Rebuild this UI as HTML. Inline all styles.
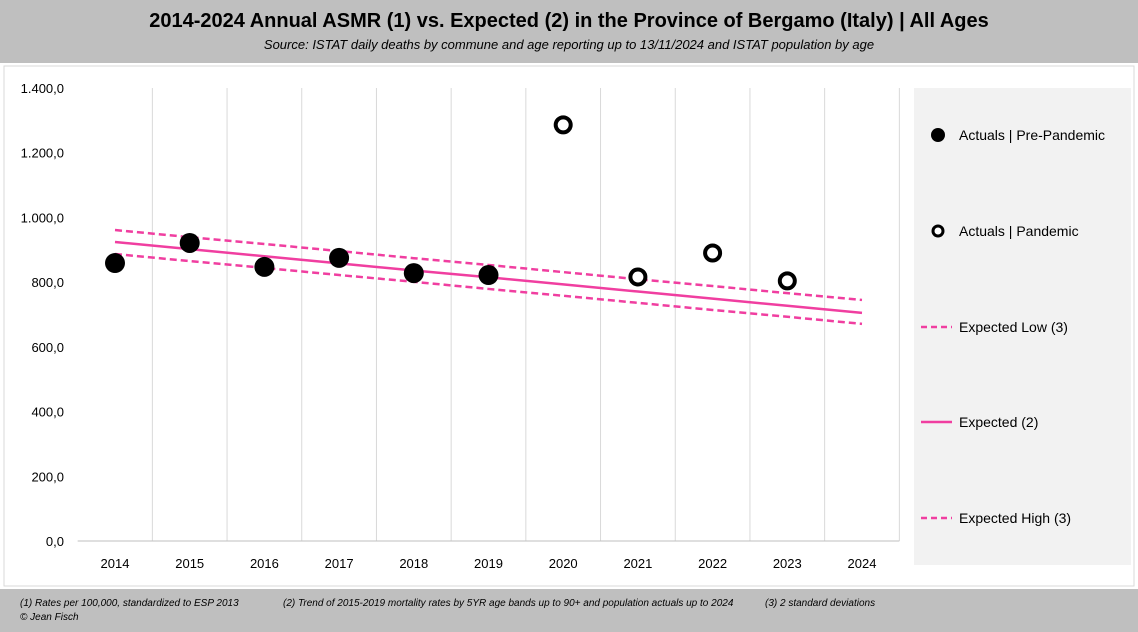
<!DOCTYPE html>
<html><head><meta charset="utf-8"><style>
body{margin:0;width:1138px;height:632px;overflow:hidden;background:#fff;font-family:"Liberation Sans",sans-serif}
#hdr{position:absolute;left:0;top:0;width:1138px;height:63px;background:#bfbfbf;text-align:center}
#hdr h1{margin:0;padding-top:10px;font-size:20px;font-weight:bold;color:#000}
#hdr p{margin:4px 0 0;font-size:13px;font-style:italic}
#ftr{position:absolute;left:0;top:589px;width:1138px;height:43px;background:#bfbfbf;font-size:10px;font-style:italic}
svg{position:absolute;left:0;top:0}
</style></head><body>
<div id="hdr"><h1>2014-2024 Annual ASMR (1) vs. Expected (2) in the Province of Bergamo (Italy) | All Ages</h1><p>Source: ISTAT daily deaths by commune and age reporting up to 13/11/2024 and ISTAT population by age</p></div>
<svg id="c" width="1138" height="632"></svg>
<div id="ftr">
<span style="position:absolute;left:20px;top:9px">(1) Rates per 100,000, standardized to ESP 2013</span>
<span style="position:absolute;left:283px;top:9px">(2) Trend of 2015-2019 mortality rates by 5YR age bands up to 90+ and population actuals up to 2024</span>
<span style="position:absolute;left:765px;top:9px">(3) 2 standard deviations</span>
<span style="position:absolute;left:20px;top:23px">© Jean Fisch</span></div>
<script>
const years=[2014,2015,2016,2017,2018,2019,2020,2021,2022,2023,2024];
const pre=[859,921,847,875,828,822,null,null,null,null,null];
const pand=[null,null,null,null,null,null,1286,816,890,804,null];
const expected=[924,902,880,858,836,815,793,771,749,727,705];
const expLow=[887,865,844,822,801,779,758,736,714,693,671];
const expHigh=[961,939,918,896,874,853,831,809,788,766,745];
const yTicks=[0,200,400,600,800,1000,1200,1400];
const yLabels=["0,0","200,0","400,0","600,0","800,0","1.000,0","1.200,0","1.400,0"];
const svg=document.getElementById('c');const NS='http://www.w3.org/2000/svg';
const x0=115,dx=74.7,y0=541,yTop=88;
const X=i=>x0+i*dx, Y=v=>y0-(v/1400)*(y0-yTop);
function el(t,a,p){const e=document.createElementNS(NS,t);for(const k in a)e.setAttribute(k,a[k]);(p||svg).appendChild(e);return e;}
const frame=el('rect',{x:4,y:66,width:1130,height:520,fill:'none',stroke:'#d9d9d9'});

const lg=el('rect',{x:914,y:88,width:217,height:477,fill:'#f2f2f2'});

for(let i=1;i<=years.length;i++){const gx=X(i)-dx/2;const g=el('line',{x1:gx,x2:gx,y1:yTop,y2:y0,stroke:'#d9d9d9'});
}
el('line',{x1:X(0)-dx/2,x2:X(10)+dx/2,y1:y0,y2:y0,stroke:'#bfbfbf'});
yTicks.forEach((v,i)=>{const t=el('text',{x:64,y:Y(v)+5,'text-anchor':'end','font-size':13,fill:'#000'});t.textContent=yLabels[i];
});
years.forEach((yv,i)=>{const t=el('text',{x:X(i),y:568,'text-anchor':'middle','font-size':13});t.textContent=yv;
});
function line(arr,dash,name){const p=el('polyline',{points:arr.map((v,i)=>X(i)+','+Y(v)).join(' '),fill:'none',stroke:'#f03ea0','stroke-width':2.5,'stroke-dasharray':dash});
}
line(expLow,'7,4','expected-low-line');line(expHigh,'7,4','expected-high-line');line(expected,'none','expected-line');
pre.forEach((v,i)=>{if(v==null)return;const c=el('circle',{cx:X(i),cy:Y(v),r:10,fill:'#000'});
});
pand.forEach((v,i)=>{if(v==null)return;const c=el('circle',{cx:X(i),cy:Y(v),r:7.5,fill:'#fff',stroke:'#000','stroke-width':4});
});
const items=[['pre','Actuals | Pre-Pandemic',135],['pand','Actuals | Pandemic',231],['dash','Expected Low (3)',327],['solid','Expected (2)',422],['dash','Expected High (3)',518]];
items.forEach(([k,l,y])=>{const g=el('g',{});
if(k=='pre')el('circle',{cx:938,cy:y,r:7,fill:'#000'},g);
else if(k=='pand')el('circle',{cx:938,cy:y,r:5,fill:'#fff',stroke:'#000','stroke-width':3},g);
else el('line',{x1:921,x2:952,y1:y,y2:y,stroke:'#f03ea0','stroke-width':2.5,'stroke-dasharray':k=='dash'?'6,4':'none'},g);
const t=el('text',{x:959,y:y+5,'font-size':14},g);t.textContent=l;});
</script>
</body></html>
